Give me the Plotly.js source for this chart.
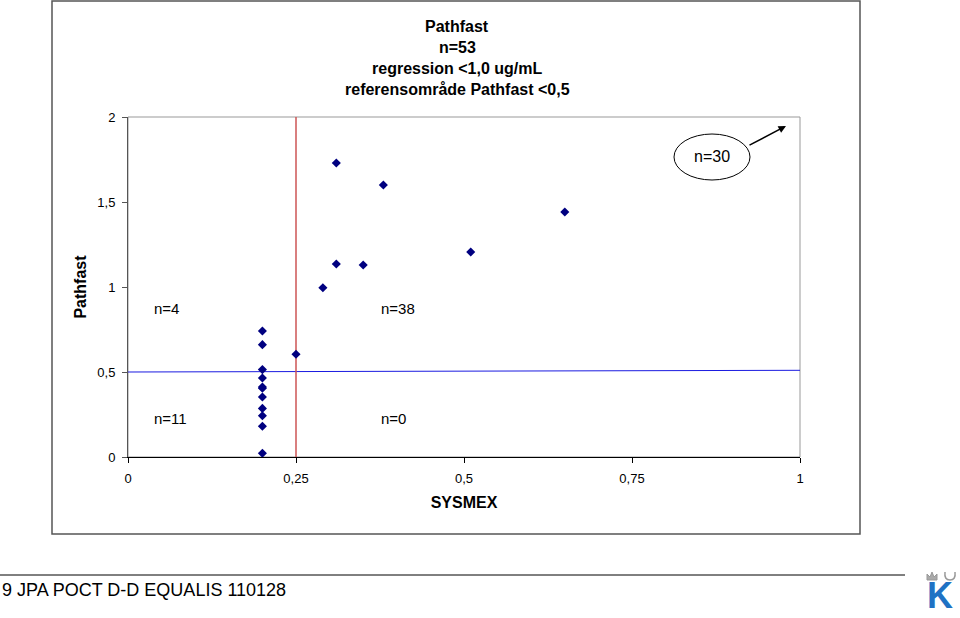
<!DOCTYPE html>
<html>
<head>
<meta charset="utf-8">
<script src="https://cdn.plot.ly/plotly-3.0.1.min.js"></script>
<style>html,body{margin:0;padding:0;background:#fff;} #chart{width:960px;height:618px;}</style>
</head>
<body>
<div id="chart"></div>
<script>
// Data
const sysmex = [0.2, 0.2, 0.2, 0.2, 0.2, 0.2, 0.2, 0.2, 0.2, 0.2, 0.2, 0.25, 0.29, 0.31, 0.35, 0.31, 0.38, 0.51, 0.65];
const pathfast = [0.741, 0.661, 0.514, 0.465, 0.412, 0.404, 0.353, 0.286, 0.243, 0.181, 0.022, 0.604, 0.996, 1.135, 1.129, 1.729, 1.60, 1.206, 1.441];
const refLineX = [0, 1];
const refLineY = [0.5, 0.51];
const cutLineX = [0.25, 0.25];
const cutLineY = [0, 2];
const titleLines = ["Pathfast", "n=53", "regression <1,0 ug/mL", "referensområde Pathfast <0,5"];
const quadrantLabels = ["n=4", "n=38", "n=11", "n=0"];
const xTicks = [0, 0.25, 0.5, 0.75, 1];
const yTicks = [0, 0.5, 1, 1.5, 2];

const FONT = "Liberation Sans, Arial, sans-serif";

const traces = [
  {x: refLineX, y: refLineY, mode: "lines", line: {color: "#1a1ae0", width: 1}, hoverinfo: "skip", showlegend: false},
  {x: cutLineX, y: cutLineY, mode: "lines", line: {color: "#cc5555", width: 1.5}, hoverinfo: "skip", showlegend: false},
  {x: sysmex, y: pathfast, mode: "markers", type: "scatter",
   marker: {symbol: "diamond", size: 7, color: "#000080"}, showlegend: false}
];

const titleY = [26, 47, 68, 89];
const annotations = titleLines.map((t, i) => ({
  xref: "paper", yref: "paper", x: (457 - 128) / 672, y: (457 - titleY[i]) / 340,
  text: "<b>" + t + "</b>", showarrow: false, xanchor: "center", yanchor: "middle",
  font: {family: FONT, size: 16, color: "#000"}
}));

const qPos = [[0.036, 0.876], [0.374, 0.876], [0.036, 0.224], [0.374, 0.224]];
quadrantLabels.forEach((t, i) => annotations.push({
  xref: "x", yref: "y", x: qPos[i][0], y: qPos[i][1], text: t, showarrow: false,
  xanchor: "left", yanchor: "middle", font: {family: FONT, size: 15, color: "#000"}
}));

annotations.push({
  xref: "x", yref: "y", x: 0.869, y: 1.765, text: "n=30", showarrow: false,
  xanchor: "center", yanchor: "middle", font: {family: FONT, size: 16, color: "#000"}
});
annotations.push({
  xref: "x", yref: "y", x: (786 - 128) / 672, y: (457 - 126) / 170, text: "",
  showarrow: true, ax: -38, ay: 20, arrowhead: 2, arrowsize: 1, arrowwidth: 1.5, arrowcolor: "#000"
});
annotations.push({
  xref: "paper", yref: "paper", x: -128 / 672, y: (457 - 590) / 340,
  text: "9 JPA POCT D-D EQUALIS 110128", showarrow: false, xanchor: "left", yanchor: "middle",
  font: {family: FONT, size: 18, color: "#000"}
});
annotations.push({
  xref: "paper", yref: "paper", x: (940 - 128) / 672, y: (457 - 595) / 340,
  text: "<b>K</b>", showarrow: false, xanchor: "center", yanchor: "middle",
  font: {family: FONT, size: 36, color: "#1f72c4"}
});

const px = v => (v - 128) / 672;
const py = v => (457 - v) / 340;

const shapes = [
  // outer chart frame
  {type: "rect", xref: "paper", yref: "paper", x0: px(52), x1: px(860), y0: py(534), y1: py(1),
   line: {color: "#555", width: 1.5}, layer: "below"},
  // plot area border
  {type: "rect", xref: "paper", yref: "paper", x0: 0, x1: 1, y0: 0, y1: 1,
   line: {color: "#999", width: 1}, layer: "below"},
  // ellipse
  {type: "circle", xref: "x", yref: "y", x0: px(674), x1: px(750), y0: (457 - 180) / 170, y1: (457 - 134) / 170,
   line: {color: "#000", width: 1}},
  // footer line
  {type: "line", xref: "paper", yref: "paper", x0: px(0), x1: px(905), y0: py(575), y1: py(575),
   line: {color: "#000", width: 1}},
  // logo crown (gray)
  {type: "path", xref: "paper", yref: "paper",
   path: `M ${px(927)} ${py(580)} L ${px(927)} ${py(574)} L ${px(930)} ${py(577)} L ${px(932)} ${py(572)} L ${px(934)} ${py(577)} L ${px(937)} ${py(574)} L ${px(937)} ${py(580)} Z`,
   fillcolor: "#aaa", line: {color: "#999", width: 1}},
  {type: "path", xref: "paper", yref: "paper",
   path: `M ${px(945)} ${py(572)} Q ${px(944)} ${py(580)} ${px(950)} ${py(580)} Q ${px(956)} ${py(580)} ${px(955)} ${py(572)}`,
   line: {color: "#999", width: 1.5}}
];

const layout = {
  width: 960, height: 618,
  margin: {l: 128, r: 160, t: 117, b: 161, pad: 0},
  paper_bgcolor: "#fff", plot_bgcolor: "#fff",
  separators: ", ",
  font: {family: FONT, size: 13, color: "#000"},
  showlegend: false,
  xaxis: {
    range: [0, 1], tickvals: xTicks, showgrid: false, zeroline: false,
    showline: true, linecolor: "#000", linewidth: 1,
    ticks: "outside", ticklen: 5, tickcolor: "#000", ticklabelstandoff: 4,
    tickfont: {family: FONT, size: 13, color: "#000"},
    title: {text: "<b>SYSMEX</b>", font: {family: FONT, size: 16, color: "#000"}, standoff: 12},
    automargin: false, fixedrange: true
  },
  yaxis: {
    range: [0, 2], tickvals: yTicks, showgrid: false, zeroline: false,
    showline: true, linecolor: "#555", linewidth: 1,
    ticks: "outside", ticklen: 5, tickcolor: "#555", ticklabelstandoff: 4,
    tickfont: {family: FONT, size: 13, color: "#000"},
    title: {text: "<b>Pathfast</b>", font: {family: FONT, size: 16, color: "#000"}, standoff: 6},
    automargin: false, fixedrange: true
  },
  annotations: annotations,
  shapes: shapes
};

Plotly.newPlot("chart", traces, layout, {displayModeBar: false, staticPlot: true});
</script>
</body>
</html>
